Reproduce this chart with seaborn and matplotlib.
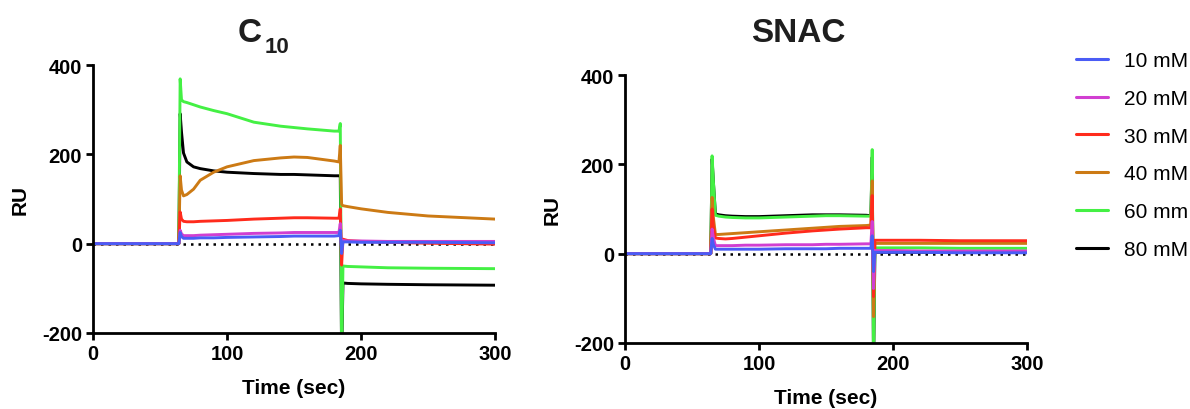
import matplotlib
matplotlib.use("Agg")
import matplotlib.pyplot as plt
from matplotlib.lines import Line2D
import numpy as np
import pandas as pd
import seaborn as sns

# Sensorgram sampling times (s)
time_s = [0, 64, 65, 66, 67.5, 70, 75, 80, 90, 100, 120, 140, 150, 160, 180,
          183.5, 184.5, 185.5, 186.5, 190, 200, 220, 250, 300]

concentrations = ["10 mM", "20 mM", "30 mM", "40 mM", "60 mm", "80 mM"]
colors = ["#4a5cf5", "#d13fd1", "#ff2b1c", "#cc7a14", "#44f044", "#000000"]

# C10 responses (RU)
c10_10mM = [0, 0, 25, 16, 12, 12, 12, 13, 13, 14, 15, 16, 17, 17, 17,
            18, 30, -22, 4, 4, 3, 3, 3, 2]
c10_20mM = [0, 0, 30, 22, 18, 18, 18, 19, 20, 21, 23, 24, 25, 25, 25,
            25, 45, -15, 7, 6, 6, 5, 5, 5]
c10_30mM = [0, 0, 71, 55, 50, 49, 49, 50, 51, 52, 55, 57, 58, 58, 57,
            57, 78, -48, 10, 7, 5, 3, 1, -1]
c10_40mM = [0, 0, 152, 120, 107, 110, 122, 142, 160, 172, 186, 192, 194, 193, 185,
            183, 220, 88, 85, 83, 78, 70, 62, 55]
c10_60mM = [0, 0, 369, 322, 318, 316, 311, 306, 298, 291, 272, 263, 260, 257, 252,
            252, 269, -260, -50, -51, -52, -54, -55, -56]
c10_80mM = [0, 0, 291, 250, 203, 183, 172, 168, 163, 160, 157, 155, 155, 154, 152,
            152, 152, -260, -88, -89, -90, -91, -92, -93]

# SNAC responses (RU)
snac_10mM = [0, 0, 34, 20, 10, 10, 10, 10, 10, 10, 11, 11, 11, 12, 12,
             12, 40, -40, 3, 3, 3, 3, 2, 2]
snac_20mM = [0, 0, 55, 35, 18, 18, 18, 18, 19, 19, 20, 20, 21, 21, 22,
             22, 72, -78, 7, 7, 7, 6, 6, 6]
snac_30mM = [0, 0, 100, 60, 35, 34, 33, 34, 37, 40, 46, 51, 53, 55, 58,
             58, 130, -96, 30, 30, 30, 30, 29, 29]
snac_40mM = [0, 0, 126, 80, 43, 43, 44, 45, 47, 49, 53, 57, 59, 61, 63,
             64, 163, -141, 23, 23, 23, 23, 23, 23]
snac_60mM = [0, 0, 219, 160, 86, 84, 82, 81, 80, 80, 82, 84, 85, 85, 84,
             84, 233, -260, 13, 13, 13, 13, 12, 12]
snac_80mM = [0, 0, 212, 160, 89, 87, 85, 84, 83, 83, 85, 87, 87, 87, 86,
             85, 216, -260, 3, 3, 3, 3, 3, 3]

x_ticks = [0, 100, 200, 300]
y_ticks = [-200, 0, 200, 400]


def long_frame(series):
    rows = []
    for conc, vals in zip(concentrations, series):
        for t, v in zip(time_s, vals):
            rows.append({"time": t, "RU": v, "conc": conc})
    return pd.DataFrame(rows)


c10_df = long_frame([c10_10mM, c10_20mM, c10_30mM, c10_40mM, c10_60mM, c10_80mM])
snac_df = long_frame([snac_10mM, snac_20mM, snac_30mM, snac_40mM, snac_60mM, snac_80mM])

sns.set_style("ticks")
plt.rcParams["font.family"] = ["Liberation Sans", "DejaVu Sans"]
plt.rcParams["axes.unicode_minus"] = False
plt.rcParams["text.color"] = "black"
plt.rcParams["axes.labelcolor"] = "black"
plt.rcParams["xtick.color"] = "black"
plt.rcParams["ytick.color"] = "black"

palette = dict(zip(concentrations, colors))
draw_order = concentrations[::-1]  # lowest concentration drawn on top

fig = plt.figure(figsize=(11.9, 4.1), dpi=100)
ax1 = fig.add_axes([0.0782, 0.1854, 0.3378, 0.6536])
ax2 = fig.add_axes([0.5252, 0.1610, 0.3378, 0.6536])

for ax, df in ((ax1, c10_df), (ax2, snac_df)):
    ax.axhline(0, color="black", lw=1.8, ls=(0, (1, 2)), zorder=1)
    sns.lineplot(data=df, x="time", y="RU", hue="conc", hue_order=draw_order,
                 palette=palette, estimator=None, sort=False, legend=False,
                 linewidth=2.1, ax=ax, zorder=2)
    ax.set_xlim(0, 300)
    ax.set_ylim(-200, 400)
    ax.set_xticks(x_ticks)
    ax.set_yticks(y_ticks)
    sns.despine(ax=ax)
    for side in ("left", "bottom"):
        ax.spines[side].set_linewidth(2.0)
        ax.spines[side].set_color("black")
    ax.tick_params(axis="both", length=5, width=2.0, color="black",
                   labelcolor="black", labelsize=14.5, pad=3)
    for lab in ax.get_xticklabels() + ax.get_yticklabels():
        lab.set_fontweight("bold")
    ax.set_xlabel("Time (sec)", fontsize=15, fontweight="bold", labelpad=11,
                  color="black")
    ax.set_ylabel("RU", fontsize=15, fontweight="bold", labelpad=9, color="black")
    ax.patch.set_alpha(0)

# Panel titles
fig.text(0.200, 0.8976, "C", fontsize=24, fontweight="bold", color="#1e1e1e",
         ha="left", va="baseline")
fig.text(0.2225, 0.871, "10", fontsize=16, fontweight="bold", color="#1e1e1e",
         ha="left", va="baseline")
fig.text(0.6706, 0.8976, "SNAC", fontsize=24, fontweight="bold", color="#1e1e1e",
         ha="center", va="baseline")

handles = [Line2D([], [], color=c, lw=2.2) for c in colors]
leg = fig.legend(handles, concentrations, loc="upper left",
                 bbox_to_anchor=(0.904, 0.873), frameon=False, fontsize=15,
                 handlelength=1.55, handletextpad=0.75, labelspacing=0.9,
                 borderpad=0, borderaxespad=0)
for txt in leg.get_texts():
    txt.set_color("black")

fig.savefig("out.png", dpi=100)
